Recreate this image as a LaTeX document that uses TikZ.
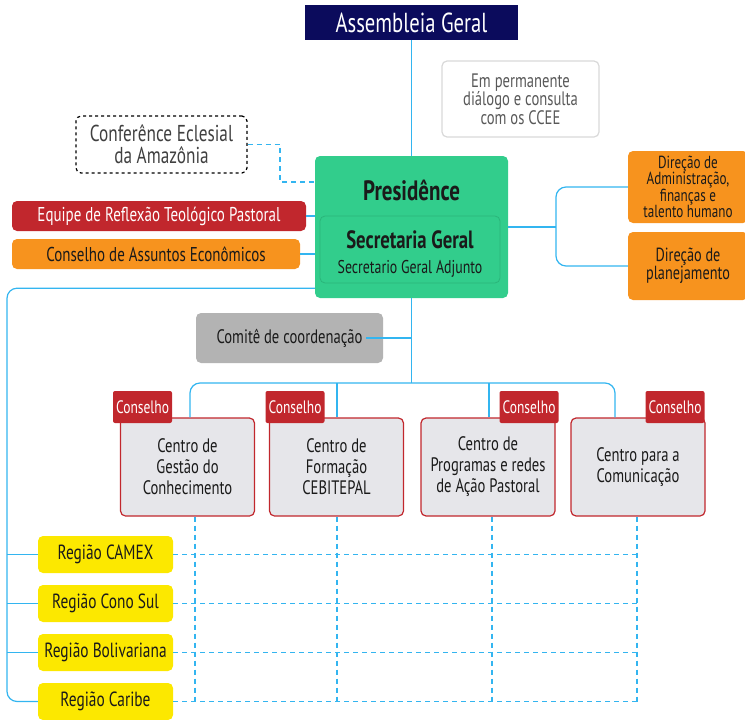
\documentclass[tikz,border=0pt]{standalone}
\usepackage{fontspec}
\setmainfont{PT Sans}[FakeStretch=0.75]
\usepackage{tikz}
\usepackage{color}

\definecolor{navy}{HTML}{0B0B5C}
\definecolor{presgreen}{HTML}{32CD8C}
\definecolor{secgreen}{HTML}{2AB57A}
\definecolor{celred}{HTML}{C1272D}
\definecolor{celorange}{HTML}{F7931E}
\definecolor{regyellow}{HTML}{FCE800}
\definecolor{comgray}{HTML}{B3B3B3}
\definecolor{boxgray}{HTML}{E6E6EA}
\definecolor{linkblue}{HTML}{33B5F0}
\definecolor{txtdark}{HTML}{1A1A1A}

\begin{document}
\begin{tikzpicture}[x=1pt,y=-1pt]
    % Define style for the boxes and lines
    \tikzstyle{box} = [rectangle, rounded corners=5pt, align=center, inner sep=2pt, text=txtdark]
    \tikzstyle{redbox} = [box, fill=celred, text=white, font=\fontsize{20}{22}\selectfont]
    \tikzstyle{orangebox} = [box, fill=celorange, font=\fontsize{20}{22}\selectfont]
    \tikzstyle{regbox} = [box, fill=regyellow, minimum width=135pt, minimum height=37pt, font=\fontsize{20.5}{22}\selectfont]
    \tikzstyle{centrebox} = [box, fill=boxgray, draw=celred, line width=1.2pt, minimum width=134pt, minimum height=98pt, font=\fontsize{19.5}{21}\selectfont]
    \tikzstyle{tag} = [rectangle, rounded corners=2pt, fill=celred, text=white, minimum width=59pt, minimum height=32pt, inner sep=1pt, font=\fontsize{18}{20}\selectfont]
    \tikzstyle{link} = [draw=linkblue, line width=1.2pt]
    \tikzstyle{dashlink} = [draw=linkblue, line width=1.2pt, dashed, dash pattern=on 5pt off 4pt]

    \useasboundingbox (0,0) rectangle (745,720);

    % Draw the top boxes
    \node[rectangle, fill=navy, text=white, minimum width=213pt, minimum height=35pt, font=\fontsize{27.5}{29}\selectfont] (assembleia) at (411.5,22.5) {Assembleia Geral};
    \node[box, draw=black!15, line width=1.2pt, fill=white, minimum width=157pt, minimum height=76pt, text=black!65, font=\fontsize{19.5}{18.5}\selectfont] (dialogo) at (520.5,99) {Em permanente\\diálogo e consulta\\com os CCEE};
    \node[box, draw=black, dashed, line width=1.2pt, minimum width=171pt, minimum height=57pt, text=black!75, font=\fontsize{23}{22}\selectfont] (conferencia) at (161.5,144.5) {Conferênce Eclesial\\da Amazônia};

    % Draw the presidence
    \node[box, fill=presgreen, minimum width=193pt, minimum height=142pt] (presid) at (411.5,227) {};
    \node[font=\bfseries\fontsize{28}{30}\selectfont, text=txtdark] (presidtitle) at (411.5,190) {Presidênce};
    \node[box, draw=secgreen, line width=0.8pt, minimum width=180pt, minimum height=67pt] (secgeral) at (410,249.5) {};
    \node[align=center, text=txtdark, font=\fontsize{25}{25}\selectfont] (sectext) at (410,254) {{\bfseries Secretaria Geral}\\{\fontsize{18.5}{19}\selectfont Secretario Geral Adjunto}};

    % Draw the left and right boxes
    \node[redbox, minimum width=294pt, minimum height=30pt] (equipe) at (159,216) {Equipe de Reflexão Teológico Pastoral};
    \node[orangebox, minimum width=288pt, minimum height=30pt] (conselhoeco) at (156,254) {Conselho de Assuntos Econômicos};
    \node[orangebox, minimum width=120pt, minimum height=72pt, font=\fontsize{17.5}{16.5}\selectfont] (diradm) at (688,187) {Direção de\\Administração,\\finanças e\\talento humano};
    \node[orangebox, minimum width=120pt, minimum height=68pt, font=\fontsize{19}{18}\selectfont] (dirplan) at (688,266) {Direção de\\planejamento};
    \node[box, fill=comgray, minimum width=187pt, minimum height=50pt, font=\fontsize{19.5}{21}\selectfont] (comite) at (289.5,338) {Comitê de coordenação};

    % Draw the centres and their councils
    \node[centrebox] (centro1) at (187.5,467) {Centro de\\Gestão do\\Conhecimento};
    \node[centrebox] (centro2) at (336.5,467) {Centro de\\Formação\\CEBITEPAL};
    \node[centrebox] (centro3) at (488,467) {Centro de\\Programas e redes\\de Ação Pastoral};
    \node[centrebox] (centro4) at (638,467) {Centro para a\\Comunicação};
    \foreach \i/\x in {1/142.5,2/295,3/529,4/675} {
        \node[tag] (tag\i) at (\x,407) {Conselho};
    }

    % Draw the regions
    \foreach \i/\name/\y in {1/CAMEX/554.5,2/Cono Sul/603.5,3/Bolivariana/652.5,4/Caribe/701.5} {
        \node[regbox] (regiao\i) at (105.5,\y) {Região \name};
    }

    % Coordinates for the buses
    \coordinate (rightbus) at (556,227);
    \coordinate (trunkend) at (411.5,383);
    \coordinate (busbottom) at (7,701.5);
    \coordinate (gridright) at (637,0);
    \foreach \i/\x in {1/190,2/337,3/489,4/615} {
        \coordinate (drop\i) at (\x,383);
    }
    \foreach \i/\x in {1/195,2/337,3/492,4/637} {
        \coordinate (grid\i) at (\x,701.5);
    }

    % Draw the solid links
    \draw[link] (assembleia.south) -- (presid.north);
    \draw[link] (presid.south) -- (trunkend);
    \draw[link] ([xshift=-17pt]comite.east) -- (comite.east -| trunkend);
    \draw[link] (equipe.east) -- (equipe.east -| presid.west);
    \draw[link] (conselhoeco.east) -- (conselhoeco.east -| presid.west);
    \draw[link] (presid.east) -- (rightbus);
    \draw[link, rounded corners=10pt] (diradm.west) -| (rightbus) |- (dirplan.west);
    \draw[link, rounded corners=10pt] (drop1 |- centro1.north) -- (drop1) -- (drop4) -- (drop4 |- centro4.north);
    \foreach \i in {2,3} {
        \draw[link] (drop\i) -- (drop\i |- centro\i.north);
    }
    \draw[link, rounded corners=10pt] ([yshift=10pt]presid.south west) -| (busbottom) -- (regiao4.west);
    \foreach \i in {1,2,3} {
        \draw[link] (regiao\i.west -| busbottom) -- (regiao\i.west);
    }

    % Draw the dashed links
    \draw[dashlink] (conferencia.east) -| (280,182) -- (presid.west |- 0,182);
    \foreach \i in {1,...,4} {
        \draw[dashlink] (grid\i |- centro\i.south) -- (grid\i);
        \draw[dashlink] (regiao\i.east) -- (regiao\i.east -| gridright);
    }
\end{tikzpicture}
\end{document}
